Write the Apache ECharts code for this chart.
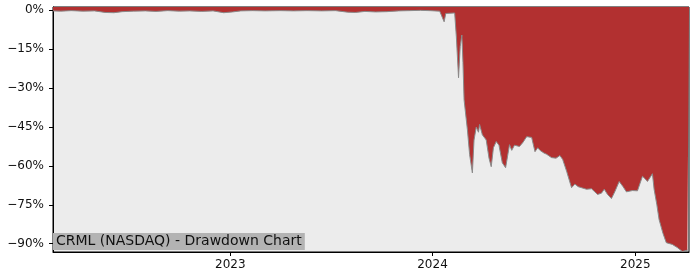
<!DOCTYPE html>
<html>
<head>
<meta charset="utf-8">
<script src="https://cdn.jsdelivr.net/npm/echarts@6/dist/echarts.min.js"></script>
<style>
html,body{margin:0;padding:0;background:#fff;}
#c{width:700px;height:280px;}
</style>
</head>
<body>
<div id="c"></div>
<script>
const titleText = "CRML (NASDAQ) - Drawdown Chart";
const dates = [
"2022-02-15","2022-03-01","2022-03-20","2022-04-10","2022-05-01","2022-05-20","2022-06-05","2022-06-20",
"2022-07-10","2022-08-01","2022-08-20","2022-09-10","2022-10-01","2022-10-20","2022-11-10","2022-12-01",
"2022-12-20","2023-01-05","2023-01-20","2023-02-10","2023-03-05","2023-04-01","2023-04-25","2023-05-20",
"2023-06-15","2023-07-10","2023-08-01","2023-08-15","2023-09-01","2023-09-20","2023-10-10","2023-11-01",
"2023-11-20","2023-12-10","2023-12-27","2024-01-14","2024-01-22","2024-01-25","2024-02-10","2024-02-13",
"2024-02-17","2024-02-20","2024-02-23","2024-02-25","2024-02-27","2024-03-04","2024-03-08","2024-03-13",
"2024-03-16","2024-03-20","2024-03-24","2024-03-26","2024-03-31","2024-04-07","2024-04-12","2024-04-16",
"2024-04-20","2024-04-25","2024-04-30","2024-05-06","2024-05-12","2024-05-19","2024-05-23","2024-05-28",
"2024-06-06","2024-06-12","2024-06-19","2024-06-28","2024-07-04","2024-07-09","2024-07-13","2024-07-20",
"2024-07-25","2024-08-03","2024-08-11","2024-08-18","2024-08-23","2024-08-30","2024-09-08","2024-09-14",
"2024-09-20","2024-09-26","2024-10-05","2024-10-14","2024-10-20","2024-10-25","2024-11-01","2024-11-06",
"2024-11-12","2024-11-19","2024-11-25","2024-12-03","2024-12-10","2024-12-16","2024-12-27","2025-01-05",
"2025-01-14","2025-01-19","2025-01-23","2025-02-01","2025-02-04","2025-02-09","2025-02-13","2025-02-20",
"2025-02-26","2025-03-09","2025-03-18","2025-03-27","2025-04-05","2025-04-08"
];
const drawdown = [
-0.2,-0.3,-0.1,-0.3,-0.2,-0.8,-0.9,-0.5,
-0.3,-0.2,-0.4,-0.1,-0.3,-0.2,-0.4,-0.2,
-0.9,-0.6,-0.2,-0.1,-0.2,-0.1,-0.2,-0.1,
-0.2,-0.1,-0.7,-0.8,-0.4,-0.6,-0.5,-0.2,
-0.1,0,-0.1,-0.3,-4.4,-1.2,-1.0,-10,
-26,-14,-9.5,-20,-34.5,-46,-55.6,-62.7,
-50,-45,-47,-44,-48,-50,-57,-60.3,
-53,-50.6,-52,-58.8,-60.7,-51.8,-54,-52,
-52.5,-51,-48.7,-49,-54.5,-53,-54,-55,
-55.5,-56.8,-57,-56,-57.5,-62,-68.4,-67,
-68,-68.4,-69,-68.8,-70,-71,-70.5,-69,
-71,-72.6,-70,-66,-68,-70,-69.5,-69.6,
-64,-65,-66,-63,-69,-75,-80.7,-86,
-89.6,-90.3,-91.5,-93,-92.5,-92.5
];
const yTicks = [0,-15,-30,-45,-60,-75,-90];
const xTickLabels = ["2023","2024","2025"];

const toTs = s => Date.UTC(+s.slice(0,4), +s.slice(5,7)-1, +s.slice(8,10));
const chart = echarts.init(document.getElementById('c'), null, {renderer:'canvas'});
const seriesData = dates.map((d,i)=>[toTs(d), drawdown[i]]);
const xTickValues = xTickLabels.map(y => Date.UTC(+y,0,1));
const font = "DejaVu Sans";
chart.setOption({
  animation:false,
  backgroundColor:'#ffffff',
  title:{
    text:titleText,
    left:53, top:233,
    padding:[1,3,2,3],
    backgroundColor:'#b3b3b3',
    textStyle:{fontFamily:font,fontSize:14,fontWeight:'normal',color:'#111'}
  },
  grid:{left:53,right:11,top:7,bottom:28,show:true,backgroundColor:'#ececec',borderColor:'#000',borderWidth:1},
  xAxis:{
    type:'value',
    min:toTs("2022-02-15"),
    max:toTs("2025-04-08"),
    axisLine:{show:true,onZero:false,lineStyle:{color:'#000',width:1}},
    axisTick:{show:true,length:4,lineStyle:{color:'#000'},customValues:xTickValues},
    axisLabel:{fontFamily:font,fontSize:12,color:'#111',margin:7,customValues:xTickValues,
      formatter:v=>String(new Date(v).getUTCFullYear())},
    splitLine:{show:false}
  },
  yAxis:{
    type:'value',
    min:-93.2, max:1.3,
    axisLine:{show:true,lineStyle:{color:'#000',width:1}},
    axisTick:{show:true,length:4,lineStyle:{color:'#000'},customValues:yTicks},
    axisLabel:{fontFamily:font,fontSize:12,color:'#111',margin:9,customValues:yTicks,
      formatter:v=>(v<0?'\u2212'+Math.abs(v):String(v))+'%'},
    splitLine:{show:false}
  },
  series:[{
    type:'line',
    data:seriesData,
    showSymbol:false,
    symbol:'none',
    lineStyle:{color:'#8a8a8a',width:1},
    areaStyle:{color:'#b23030',opacity:1,origin:'end'}
  }]
});
</script>
</body>
</html>
